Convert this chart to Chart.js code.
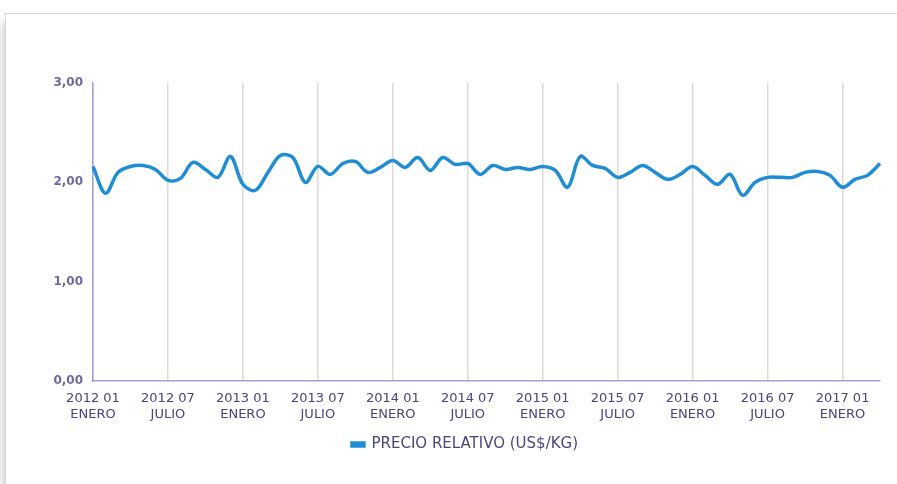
<!DOCTYPE html>
<html>
<head>
<meta charset="utf-8">
<script src="https://cdn.jsdelivr.net/npm/chart.js@4.4.1/dist/chart.umd.min.js"></script>
<style>
  html, body { margin: 0; padding: 0; background: #fff; overflow: hidden; }
  #frame {
    position: absolute; left: 5px; top: 13px; width: 1000px; height: 1000px;
    border: 1px solid #d4d4d4;
    box-shadow: -5px 6px 9px -3px rgba(0, 0, 0, 0.22);
    background: #fff;
  }
  #wrap { position: absolute; left: 0; top: 0; width: 897px; height: 484px; }
</style>
</head>
<body>
<div id="frame"></div>
<div id="wrap"><canvas id="chart"></canvas></div>
<script>
// monthly series, 2012 01 .. 2017 04
const startYear = 2012;
const monthNames = ['ENERO', 'FEBRERO', 'MARZO', 'ABRIL', 'MAYO', 'JUNIO',
    'JULIO', 'AGOSTO', 'SEPTIEMBRE', 'OCTUBRE', 'NOVIEMBRE', 'DICIEMBRE'];

const precioRelativo = [
    2.16, 1.89, 2.10, 2.16, 2.17, 2.13, 2.02, 2.04, 2.20, 2.13, 2.05, 2.26,
    1.98, 1.92, 2.10, 2.27, 2.25, 2.00, 2.16, 2.08, 2.19, 2.21, 2.10, 2.15,
    2.22, 2.15, 2.25, 2.12, 2.25, 2.18, 2.19, 2.08, 2.17, 2.13, 2.15, 2.13,
    2.16, 2.12, 1.95, 2.26, 2.17, 2.14, 2.05, 2.10, 2.17, 2.10, 2.03, 2.08,
    2.16, 2.07, 1.98, 2.08, 1.87, 2.00, 2.05, 2.05, 2.05, 2.10, 2.11, 2.07,
    1.95, 2.03, 2.07, 2.19
];

const yTicks = [0, 1, 2, 3];

const labels = precioRelativo.map((v, i) => {
    const year = startYear + Math.floor(i / 12);
    const m = i % 12;
    return [year + ' ' + String(m + 1).padStart(2, '0'), monthNames[m]];
});

const FONT = 'DejaVu Sans';
const lineColor = '#1f8dd6';

new Chart(document.getElementById('chart'), {
    type: 'line',
    data: {
        labels: labels,
        datasets: [{
            label: 'PRECIO RELATIVO (US$/KG)',
            data: precioRelativo,
            borderColor: lineColor,
            backgroundColor: lineColor,
            borderWidth: 3.5,
            tension: 0.35,
            pointRadius: 0,
            fill: false
        }]
    },
    options: {
        responsive: true,
        maintainAspectRatio: false,
        animation: false,
        // left padding shifts the legend centre to match the original
        layout: { padding: { top: 83, right: 17, bottom: 22, left: 50 } },
        plugins: {
            legend: {
                position: 'bottom',
                labels: {
                    boxWidth: 12,
                    boxHeight: 3,
                    padding: 10,
                    color: '#48487f',
                    font: { family: FONT, size: 15 }
                }
            },
            tooltip: { enabled: false }
        },
        scales: {
            x: {
                afterFit: (scale) => { scale.height = 46; },
                grid: {
                    drawTicks: false,
                    lineWidth: 1.5,
                    color: '#dadada'
                },
                border: { display: true, color: '#a0a0d4', width: 1.5 },
                ticks: {
                    autoSkip: false,
                    maxRotation: 0,
                    padding: 10,
                    color: '#45457f',
                    font: { family: FONT, size: 13 },
                    callback: function (value, index) {
                        return index % 6 === 0 ? this.getLabelForValue(value) : null;
                    }
                }
            },
            y: {
                min: 0,
                max: 3,
                afterFit: (scale) => { scale.width = 43; },
                afterBuildTicks: (scale) => { scale.ticks = yTicks.map(v => ({ value: v })); },
                grid: { display: false, drawTicks: false },
                border: { display: true, color: '#a0a0d4', width: 1.5 },
                ticks: {
                    padding: 10,
                    color: '#6a6aa0',
                    font: { family: FONT, size: 12, weight: 'bold' },
                    callback: (v) => v.toFixed(2).replace('.', ',')
                }
            }
        }
    }
});
</script>
</body>
</html>
